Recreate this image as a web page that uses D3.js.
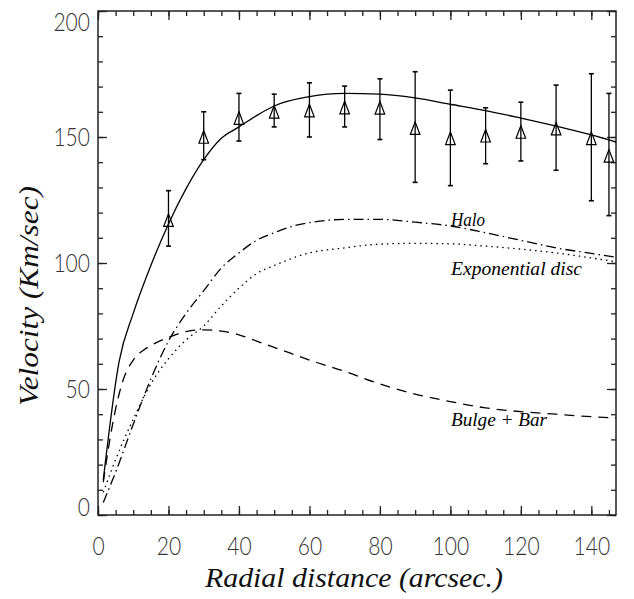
<!DOCTYPE html>
<html>
<head>
<meta charset="utf-8">
<script src="https://cdn.jsdelivr.net/npm/d3@7"></script>
<style>
  html, body { margin: 0; padding: 0; background: #fff; }
  svg { display: block; }
</style>
</head>
<body>
<svg id="chart" width="634" height="599"></svg>
<script>
// ---------------- DATA ----------------
// Observed rotation velocities (triangles with error bars)
const obsRadius = [20, 30, 40, 50, 60, 70, 80, 90, 100, 110, 120, 130, 140, 145];
const obsVelocity = [117, 150, 157.5, 160, 160.5, 161.7, 161.6, 153.5, 149.5, 150.5, 152, 153.3, 149.5, 142.5];
const obsErrHigh = [128.7, 160, 167.3, 167, 171.5, 170.2, 173.1, 175.9, 168.6, 161.6, 163.8, 170.6, 175.1, 167.3];
const obsErrLow = [106.7, 141, 148.4, 154, 150, 154, 149, 132, 130.7, 139.4, 140.5, 136.8, 124.7, 118.8];

// Model: total (solid)
const totalRadius = [1.5, 6, 10, 15, 20, 25, 30, 35, 40, 45, 50, 60, 70, 80, 90, 100, 110, 120, 130, 140, 147];
const totalVelocity = [14, 61, 80, 99, 115.5, 129.5, 141, 149.5, 154, 158.5, 162.3, 166, 167.3, 167, 165.5, 163, 160.5, 157.5, 154.3, 150.8, 148];

// Model: halo (dash-dot)
const haloRadius = [1.5, 5, 10, 15, 20, 25, 30, 35, 40, 45, 50, 55, 60, 70, 80, 90, 100, 110, 120, 130, 140, 147];
const haloVelocity = [5, 17, 36, 54, 69, 80, 89, 98, 104, 109, 112, 114.5, 116, 117.3, 117.3, 116.2, 114.7, 112, 109, 106, 103.8, 102.3];

// Model: exponential disc (dotted)
const discRadius = [1.5, 5, 10, 15, 20, 25, 30, 35, 40, 45, 50, 60, 70, 80, 90, 100, 110, 120, 130, 140, 147];
const discVelocity = [9, 22, 38, 52, 62, 69.5, 75, 83, 90, 95.8, 99, 104, 106, 107.5, 107.8, 107.6, 106.7, 105.5, 104, 102, 100.5];

// Model: bulge + bar (dashed)
const bulgeRadius = [1.5, 4, 7, 10, 13, 16, 20, 25, 30, 35, 40, 45, 50, 55, 60, 70, 80, 90, 100, 110, 120, 130, 140, 147];
const bulgeVelocity = [13, 35, 53, 61.5, 65.5, 68, 70.5, 72.8, 73.5, 73, 71.5, 69, 66.5, 64, 61.5, 57, 52, 48, 45, 42.5, 41, 40, 39, 38.5];

// Axis ticks
const xMajorTicks = [0, 20, 40, 60, 80, 100, 120, 140];
const xMinorTicks = d3.range(0, 146, 5);
const yMajorTicks = [0, 50, 100, 150, 200];
const yMinorTicks = d3.range(0, 201, 10);

const xTitle = "Radial distance (arcsec.)";
const yTitle = "Velocity (Km/sec)";
const labelHalo = "Halo";
const labelDisc = "Exponential disc";
const labelBulge = "Bulge + Bar";

// ---------------- LAYOUT ----------------
const L = 98, R = 616, T = 11, B = 515;
const svg = d3.select("#chart");
const x = d3.scaleLinear().domain([0, 147]).range([L, R]);
const y = d3.scaleLinear().domain([0, 200]).range([B, T]);

const ink = "#222";
const tickFont = "Lato, Roboto, 'DejaVu Sans', sans-serif";
const serifFont = "'Liberation Serif', 'DejaVu Serif', serif";

function styleAxis(g) {
  g.select(".domain").remove();
  g.selectAll(".tick line").attr("stroke", ink).attr("stroke-width", 1.3);
}

// Minor ticks (all sides)
svg.append("g").attr("transform", `translate(0,${B})`)
  .call(d3.axisBottom(x).tickValues(xMinorTicks).tickSize(-5).tickFormat(""))
  .call(styleAxis);
svg.append("g").attr("transform", `translate(0,${T})`)
  .call(d3.axisTop(x).tickValues(xMinorTicks).tickSize(-5).tickFormat(""))
  .call(styleAxis);
svg.append("g").attr("transform", `translate(${L},0)`)
  .call(d3.axisLeft(y).tickValues(yMinorTicks).tickSize(-5).tickFormat(""))
  .call(styleAxis);
svg.append("g").attr("transform", `translate(${R},0)`)
  .call(d3.axisRight(y).tickValues(yMinorTicks).tickSize(-5).tickFormat(""))
  .call(styleAxis);

// Major ticks
const gxB = svg.append("g").attr("transform", `translate(0,${B})`)
  .call(d3.axisBottom(x).tickValues(xMajorTicks).tickSize(-9).tickPadding(22).tickFormat(d3.format("d")))
  .call(styleAxis);
svg.append("g").attr("transform", `translate(0,${T})`)
  .call(d3.axisTop(x).tickValues(xMajorTicks).tickSize(-9).tickFormat(""))
  .call(styleAxis);
const gyL = svg.append("g").attr("transform", `translate(${L},0)`)
  .call(d3.axisLeft(y).tickValues(yMajorTicks).tickSize(-9).tickPadding(8).tickFormat(d3.format("d")))
  .call(styleAxis);
svg.append("g").attr("transform", `translate(${R},0)`)
  .call(d3.axisRight(y).tickValues(yMajorTicks).tickSize(-9).tickFormat(""))
  .call(styleAxis);

[gxB, gyL].forEach(g => g.selectAll(".tick text")
  .attr("font-family", tickFont).attr("font-weight", 300).attr("font-size", 26).attr("fill", "#333")
  .attr("textLength", d => String(d).length * 12.2).attr("lengthAdjust", "spacingAndGlyphs"));
// keep end labels of the y axis inside the frame
gyL.selectAll(".tick text").attr("dy", d => d === 0 ? "0.0em" : d === 200 ? "0.75em" : "0.34em");

// Frame
svg.append("rect").attr("x", L).attr("y", T).attr("width", R - L).attr("height", B - T)
  .attr("fill", "none").attr("stroke", ink).attr("stroke-width", 1.5);

// Curves
const clip = svg.append("clipPath").attr("id", "clip").append("rect")
  .attr("x", L).attr("y", T).attr("width", R - L).attr("height", B - T);
const plot = svg.append("g").attr("clip-path", "url(#clip)");

function drawCurve(xs, ys, dash) {
  const pts = xs.map((d, i) => [d, ys[i]]);
  const line = d3.line().x(d => x(d[0])).y(d => y(d[1])).curve(d3.curveMonotoneX);
  plot.append("path").datum(pts).attr("d", line)
    .attr("fill", "none").attr("stroke", "#000").attr("stroke-width", 1.3)
    .attr("stroke-dasharray", dash);
}
drawCurve(totalRadius, totalVelocity, null);
drawCurve(haloRadius, haloVelocity, "10,4,1.5,4");
drawCurve(discRadius, discVelocity, "1.5,4");
drawCurve(bulgeRadius, bulgeVelocity, "10,7");

// Observations
const obs = obsRadius.map((r, i) => ({ r, v: obsVelocity[i], hi: obsErrHigh[i], lo: obsErrLow[i] }));
const og = svg.append("g");
og.selectAll("line.err").data(obs).join("line").attr("class", "err")
  .attr("x1", d => x(d.r)).attr("x2", d => x(d.r))
  .attr("y1", d => y(d.lo)).attr("y2", d => y(d.hi))
  .attr("stroke", "#000").attr("stroke-width", 1.3);
og.selectAll("line.capHi").data(obs).join("line").attr("class", "capHi")
  .attr("x1", d => x(d.r) - 2.5).attr("x2", d => x(d.r) + 2.5)
  .attr("y1", d => y(d.hi)).attr("y2", d => y(d.hi))
  .attr("stroke", "#000").attr("stroke-width", 1.6);
og.selectAll("line.capLo").data(obs).join("line").attr("class", "capLo")
  .attr("x1", d => x(d.r) - 2.5).attr("x2", d => x(d.r) + 2.5)
  .attr("y1", d => y(d.lo)).attr("y2", d => y(d.lo))
  .attr("stroke", "#000").attr("stroke-width", 1.6);

const tallTriangle = {
  draw(ctx, size) {
    const w = Math.sqrt(size) * 0.42, h = Math.sqrt(size) * 0.55;
    ctx.moveTo(0, -h); ctx.lineTo(w, h); ctx.lineTo(-w, h); ctx.closePath();
  }
};
og.selectAll("path.tri").data(obs).join("path").attr("class", "tri")
  .attr("transform", d => `translate(${x(d.r)},${y(d.v)})`)
  .attr("d", d3.symbol().type(tallTriangle).size(130))
  .attr("fill", "none").attr("stroke", "#000").attr("stroke-width", 1.2);

// Annotations
function note(txt, px, py, len) {
  svg.append("text").attr("x", px).attr("y", py).text(txt)
    .attr("font-family", serifFont).attr("font-style", "italic").attr("font-size", 19)
    .attr("fill", "#000").attr("textLength", len).attr("lengthAdjust", "spacingAndGlyphs");
}
note(labelHalo, 451, 226, 34);
note(labelDisc, 451, 275, 131);
note(labelBulge, 451, 426, 96);

// Axis titles
svg.append("text").attr("x", 354).attr("y", 587).attr("text-anchor", "middle")
  .text(xTitle).attr("font-family", serifFont).attr("font-style", "italic")
  .attr("font-size", 27).attr("fill", "#111")
  .attr("textLength", 298).attr("lengthAdjust", "spacingAndGlyphs");
svg.append("text").attr("transform", "translate(38,296) rotate(-90)")
  .attr("text-anchor", "middle")
  .text(yTitle).attr("font-family", serifFont).attr("font-style", "italic")
  .attr("font-size", 27).attr("fill", "#111")
  .attr("textLength", 220).attr("lengthAdjust", "spacingAndGlyphs");
</script>
</body>
</html>
